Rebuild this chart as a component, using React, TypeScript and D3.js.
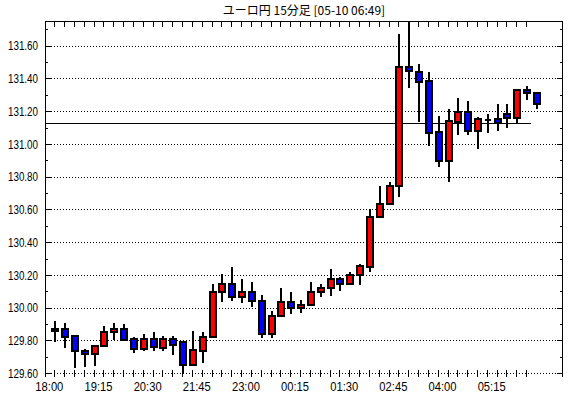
import React from "react";
import { scaleLinear, range } from "d3";

// 15-minute candles, 18:00 .. 06:15
const opens = [
  129.855, 129.87, 129.826, 129.738, 129.718, 129.767, 129.851, 129.869, 129.808, 129.747,
  129.808, 129.753, 129.808, 129.791, 129.649, 129.738, 129.82, 130.095, 130.144, 130.064,
  130.095, 130.043, 129.838, 129.952, 130.034, 129.997, 130.017, 130.095, 130.119, 130.174,
  130.144, 130.2, 130.251, 130.553, 130.634, 130.744, 131.468, 131.438, 131.385, 131.071,
  130.898, 131.136, 131.194, 131.081, 131.15, 131.153, 131.183, 131.161, 131.33, 131.31,
];
const highs = [
  129.92, 129.905, 129.83, 129.747, 129.77, 129.889, 129.907, 129.901, 129.82, 129.838,
  129.851, 129.828, 129.828, 129.793, 129.858, 129.852, 130.144, 130.206, 130.251, 130.176,
  130.156, 130.078, 129.981, 130.123, 130.098, 130.048, 130.156, 130.145, 130.237, 130.19,
  130.217, 130.267, 130.602, 130.744, 130.77, 131.672, 131.76, 131.488, 131.441, 131.171,
  131.214, 131.283, 131.264, 131.167, 131.183, 131.244, 131.244, 131.33, 131.356, 131.31,
];
const lows = [
  129.79, 129.757, 129.631, 129.636, 129.647, 129.759, 129.8, 129.8, 129.726, 129.738,
  129.738, 129.738, 129.712, 129.596, 129.649, 129.665, 129.82, 130.034, 130.043, 130.028,
  130.007, 129.818, 129.818, 129.95, 129.962, 129.967, 130.017, 130.064, 130.074, 130.105,
  130.139, 130.139, 130.221, 130.553, 130.634, 130.678, 131.34, 131.136, 130.99, 130.862,
  130.77, 131.055, 131.055, 130.97, 131.069, 131.081, 131.1, 131.126, 131.269, 131.214,
];
const closes = [
  129.87, 129.824, 129.738, 129.716, 129.767, 129.851, 129.869, 129.804, 129.747, 129.808,
  129.758, 129.808, 129.773, 129.649, 129.742, 129.82, 130.095, 130.144, 130.064, 130.095,
  130.043, 129.838, 129.952, 130.034, 129.997, 130.017, 130.095, 130.119, 130.174, 130.144,
  130.2, 130.255, 130.553, 130.634, 130.744, 131.468, 131.448, 131.38, 131.069, 130.898,
  131.14, 131.194, 131.081, 131.153, 131.15, 131.13, 131.161, 131.33, 131.31, 131.242,
];

const timeLabels = ["18:00", "19:15", "20:30", "21:45", "23:00", "00:15", "01:30", "02:45", "04:00", "05:15"];
const timeLabelIndex = [0, 5, 10, 15, 20, 25, 30, 35, 40, 45];
const priceLabels = [129.6, 129.8, 130.0, 130.2, 130.4, 130.6, 130.8, 131.0, 131.2, 131.4, 131.6];
const refPrice = 131.128;
const title = "ユーロ円 15分足 [05-10 06:49]";

const labelFont = "'Liberation Sans', Arial, sans-serif";

// One candle: wick + body
function Candle({ i, x, y }) {
  const o = opens[i];
  const c = closes[i];
  const cx = Math.round(x(i)) + 0.5;
  const top = y(Math.max(o, c));
  const bottom = y(Math.min(o, c));
  const doji = Math.abs(o - c) < 0.004;
  const fill = c > o ? "#ff0000" : "#0000ff";
  return (
    <g>
      <line x1={cx} x2={cx} y1={y(highs[i])} y2={y(lows[i])} stroke="#000" strokeWidth={2} />
      {doji ? (
        <line x1={cx - 3} x2={cx + 3} y1={Math.round(top) + 0.5} y2={Math.round(top) + 0.5} stroke="#000" strokeWidth={2} />
      ) : (
        <rect
          x={cx - 3}
          y={Math.round(top)}
          width={6}
          height={Math.max(2, Math.round(bottom) - Math.round(top))}
          fill={fill}
          stroke="#000"
          strokeWidth={2}
        />
      )}
    </g>
  );
}

export default function App() {
  const width = 570;
  const height = 398;
  const plot = { left: 45, right: 563, top: 21, bottom: 377 };

  const x = scaleLinear().domain([-0.95, 51.75]).range([plot.left, plot.right]);
  const y = scaleLinear().domain([129.577, 131.751]).range([plot.bottom, plot.top]);

  const minorPrices = range(129.6, 131.75, 0.1);
  const tickIdx = range(0, 49);

  return (
    <svg
      width={width}
      height={height}
      style={{ position: "absolute", left: 0, top: 0, background: "#fff" }}
      shapeRendering="crispEdges"
    >
      <rect width={width} height={height} fill="#fff" />

      {/* title */}
      <text x={(plot.left + plot.right) / 2} y={15} textAnchor="middle" fontSize={12} fontFamily="'Noto Sans CJK JP', sans-serif" fill="#000">
        {title}
      </text>

      <defs>
        <clipPath id="plotClip">
          <rect x={plot.left} y={plot.top} width={plot.right - plot.left} height={plot.bottom - plot.top} />
        </clipPath>
      </defs>

      {/* dotted grid */}
      {priceLabels.map((p) => (
        <line
          key={`g-${p}`}
          x1={plot.left}
          x2={plot.right}
          y1={Math.round(y(p)) + 0.5}
          y2={Math.round(y(p)) + 0.5}
          stroke="#000"
          strokeDasharray="1,2"
        />
      ))}

      {/* side ticks */}
      {minorPrices.map((p, k) => {
        const yy = Math.round(y(p)) + 0.5;
        const len = k % 2 === 0 ? 6 : 3;
        return (
          <g key={`t-${k}`}>
            <line x1={plot.left} x2={plot.left + len} y1={yy} y2={yy} stroke="#000" />
            <line x1={plot.right - len} x2={plot.right} y1={yy} y2={yy} stroke="#000" />
          </g>
        );
      })}

      {/* top and bottom ticks */}
      {tickIdx.map((i) => {
        const xx = Math.round(x(i)) + 0.5;
        return (
          <g key={`xt-${i}`}>
            <line x1={xx} x2={xx} y1={plot.top} y2={plot.top + 6} stroke="#000" />
            <line x1={xx} x2={xx} y1={plot.bottom - 7} y2={plot.bottom} stroke="#000" />
          </g>
        );
      })}

      {/* frame: left, top, right */}
      <path
        d={`M${plot.left + 0.5},${plot.bottom} V${plot.top + 0.5} H${plot.right - 0.5} V${plot.bottom}`}
        fill="none"
        stroke="#000"
      />

      {/* reference line */}
      <line
        x1={plot.left}
        x2={x(48.5)}
        y1={Math.round(y(refPrice)) + 0.5}
        y2={Math.round(y(refPrice)) + 0.5}
        stroke="#000"
      />

      {/* candles */}
      <g clipPath="url(#plotClip)">
        {opens.map((_, i) => (
          <Candle key={`c-${i}`} i={i} x={x} y={y} />
        ))}
      </g>

      {/* price labels */}
      {priceLabels.map((p) => (
        <text
          key={`pl-${p}`}
          x={plot.left - 37}
          y={y(p)}
          dy="0.36em"
          textLength={30}
          lengthAdjust="spacingAndGlyphs"
          fontSize={13}
          fontFamily={labelFont}
          fill="#000"
        >
          {p.toFixed(2)}
        </text>
      ))}

      {/* time labels */}
      {timeLabels.map((t, k) => (
        <text
          key={`tl-${t}`}
          x={x(timeLabelIndex[k]) - 19}
          y={391}
          textLength={28}
          lengthAdjust="spacingAndGlyphs"
          fontSize={13}
          fontFamily={labelFont}
          fill="#000"
        >
          {t}
        </text>
      ))}
    </svg>
  );
}
